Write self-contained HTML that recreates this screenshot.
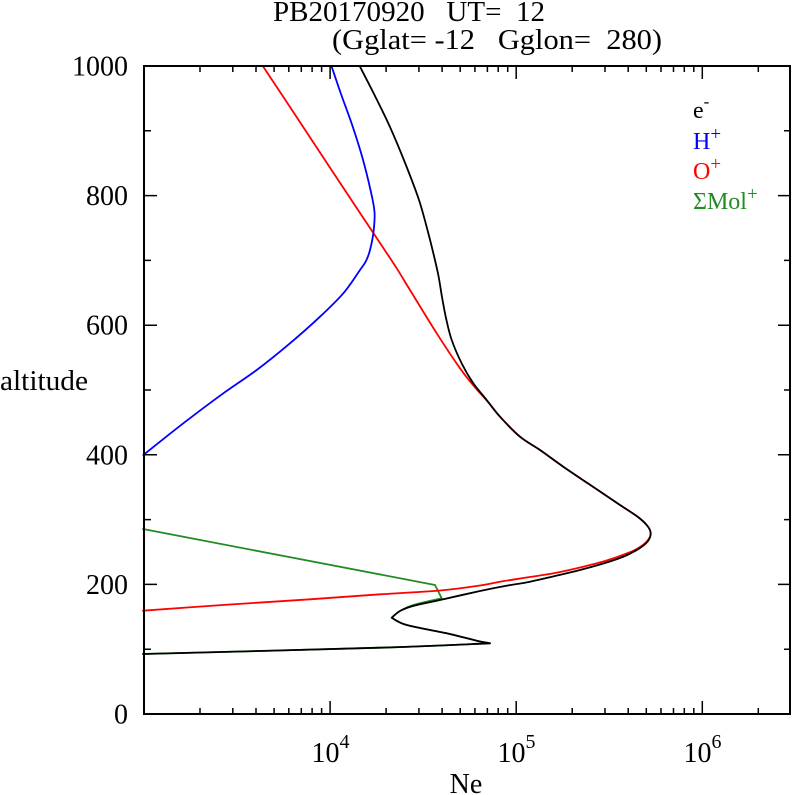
<!DOCTYPE html>
<html>
<head>
<meta charset="utf-8">
<style>
html,body{margin:0;padding:0;background:#fff;}
svg{display:block;}
text{font-family:"Liberation Serif","DejaVu Serif",serif;fill:#000;}
</style>
</head>
<body>
<svg width="792" height="795" viewBox="0 0 792 795" xmlns="http://www.w3.org/2000/svg">
<rect x="0" y="0" width="792" height="795" fill="#fff"/>

<!-- Title -->
<text x="273" y="21" font-size="28" textLength="272" lengthAdjust="spacingAndGlyphs" style="white-space:pre">PB20170920   UT=  12</text>
<text x="332" y="49" font-size="28" textLength="330" lengthAdjust="spacingAndGlyphs" style="white-space:pre">(Gglat= -12   Gglon=  280)</text>

<!-- Curves -->
<g fill="none" stroke-width="1.8" stroke-linejoin="round" stroke-linecap="round">
<path id="cg" stroke="#228B22" d="M143,529 L435,585 L441.7,598.3 L413.3,605 L396.7,613.3 L391.7,617.7 L406.7,625 L446.7,633.3 L476.7,640.7 L490,643.3 L380,647.7 L143,654"/>
<path id="cr" stroke="#FF0000" d="M263.3,66.7 L396.7,268.3 L410,290 L436.7,333.3 L460,368.3 L471.7,384 L488,402 L500,416.7 L520,436.7 L540,450 L563.3,466.7 L596.7,489.3 L613,500 L633,513 L645,522 L650.7,533.3 L648,540 L640,548 L630,553 L605,561 L580,568 L555,573 L530,576.7 L500,581.7 L480,586.5 L440,591 L380,594.3 L310,599.3 L230,604.5 L143,610.7"/>
<path id="cb" stroke="#0000FF" d="M331.7,66.7 L340,93.3 L353.3,126.7 L363.3,160 L371.7,193.3 L375,213.3 L373.3,233.3 L370,250 L366,260 L361.7,268.3 L343.3,293.3 L320,316.7 L290,343.3 L256.7,370 L223.3,393.3 L183.3,423.3 L143.3,455"/>
<path id="ck" stroke="#000000" d="M360,66.7 L373.3,93.3 L390,126.7 L406.7,166.7 L420,203.3 L430,240 L433.3,250 L437,268 L440,283.3 L445,316.7 L451.7,340 L463.3,366.7 L473.3,383.3 L486.7,400 L500,416.7 L520,436.7 L540,450 L563.3,466.7 L596.7,489.3 L613,500 L633,513 L645,522 L650.7,533.3 L648,540 L640,549 L630,555 L605,563 L580,570 L555,576 L530,581.7 L510,585 L480,591 L440,600 L413,606 L406.7,608.3 L391.7,617.7 L406.7,625 L446.7,633.3 L476.7,640.7 L490,643.3 L380,647.7 L143,654"/>
</g>

<!-- Axes box -->
<rect x="144" y="66" width="646" height="648" fill="none" stroke="#000" stroke-width="2"/>

<g stroke="#000" stroke-width="1.5">
<path d="
M200,714v-6 M232.8,714v-6 M256,714v-6 M274.1,714v-6 M288.8,714v-6 M301.3,714v-6 M312.1,714v-6 M321.6,714v-6
M386.1,714v-6 M418.9,714v-6 M442.1,714v-6 M460.2,714v-6 M474.9,714v-6 M487.4,714v-6 M498.2,714v-6 M507.7,714v-6
M572.2,714v-6 M605,714v-6 M628.2,714v-6 M646.3,714v-6 M661,714v-6 M673.5,714v-6 M684.3,714v-6 M693.8,714v-6
M758.3,714v-6
M200,66v6 M232.8,66v6 M256,66v6 M274.1,66v6 M288.8,66v6 M301.3,66v6 M312.1,66v6 M321.6,66v6
M386.1,66v6 M418.9,66v6 M442.1,66v6 M460.2,66v6 M474.9,66v6 M487.4,66v6 M498.2,66v6 M507.7,66v6
M572.2,66v6 M605,66v6 M628.2,66v6 M646.3,66v6 M661,66v6 M673.5,66v6 M684.3,66v6 M693.8,66v6
M758.3,66v6
"/>
<path d="M330.1,714v-13 M516.2,714v-13 M702.3,714v-13 M330.1,66v13 M516.2,66v13 M702.3,66v13"/>
<path d="M144,649.2h7 M144,519.6h7 M144,390h7 M144,260.4h7 M144,130.8h7
M144,584.4h13 M144,454.8h13 M144,325.2h13 M144,195.6h13"/>
<path d="M790,649.2h-6 M790,519.6h-6 M790,390h-6 M790,260.4h-6 M790,130.8h-6
M790,584.4h-12 M790,454.8h-12 M790,325.2h-12 M790,195.6h-12"/>
</g>

<!-- Y labels -->
<g font-size="28" text-anchor="end">
<text x="128" y="723.5">0</text>
<text x="128" y="594">200</text>
<text x="128" y="464.3">400</text>
<text x="128" y="334.7">600</text>
<text x="128" y="205.1">800</text>
<text x="128" y="75.5">1000</text>
</g>
<text x="0" y="390" font-size="28" textLength="88" lengthAdjust="spacingAndGlyphs">altitude</text>

<!-- X labels -->
<g font-size="28" text-anchor="middle">
<text x="330.5" y="762">10<tspan font-size="20" dy="-14">4</tspan></text>
<text x="516.5" y="762">10<tspan font-size="20" dy="-14">5</tspan></text>
<text x="702.5" y="762">10<tspan font-size="20" dy="-14">6</tspan></text>
</g>
<text x="466" y="793" font-size="28" text-anchor="middle">Ne</text>

<!-- Legend -->
<g font-size="24">
<text x="693" y="118" style="fill:#000">e<tspan font-size="17" dy="-11">-</tspan></text>
<text x="693" y="149" style="fill:#0000FF">H<tspan font-size="19" dy="-9">+</tspan></text>
<text x="693" y="179" style="fill:#FF0000">O<tspan font-size="19" dy="-9">+</tspan></text>
<text x="693" y="209" style="fill:#228B22">ΣMol<tspan font-size="19" dy="-9">+</tspan></text>
</g>
</svg>
<script>
(function(){
function smooth(segs){
  var d="";
  segs.forEach(function(p,si){
    if(si===0) d+="M"+p[0][0]+","+p[0][1];
    for(var i=0;i<p.length-1;i++){
      var p0=p[i-1]||p[i], p1=p[i], p2=p[i+1], p3=p[i+2]||p[i+1];
      var c1x=p1[0]+(p2[0]-p0[0])/6, c1y=p1[1]+(p2[1]-p0[1])/6;
      var c2x=p2[0]-(p3[0]-p1[0])/6, c2y=p2[1]-(p3[1]-p1[1])/6;
      d+=" C"+c1x.toFixed(2)+","+c1y.toFixed(2)+" "+c2x.toFixed(2)+","+c2y.toFixed(2)+" "+p2[0]+","+p2[1];
    }
  });
  return d;
}
var black=[
 [[360,66.7],[374,94],[390,127],[405.5,164],[419,200],[428,232],[434,256],[438.5,276],[442,297],[446,318],[451.7,340],[462,364],[473.3,383.3],[486.7,400],[500,416.7],[520,436.7],[540,450],[563.3,466.7],[596.7,489.3],[620,505],[638,517],[647.5,526],[650.7,533.3],[648,541],[640,548],[625,556],[605,563],[580,570],[555,576],[530,581.7],[505,586],[480,591],[440,600],[413,606],[400,611],[391.7,617.7]],
 [[391.7,617.7],[406.7,625],[446.7,633.3],[476.7,640.7],[490,643.3]],
 [[490,643.3],[380,647.7],[143,654]]
];
var red=[
 [[263.3,66.7],[290,107],[323.3,157.5],[356.7,208],[380,243],[396.7,268.3],[410,290],[436.7,333.3],[460,368.3],[473,385],[488,402],[500,416.7],[520,436.7],[540,450],[563.3,466.7],[596.7,489.3],[620,505],[638,517],[647.5,526],[650.7,533.3],[648,540],[640,547],[628,553],[605,561],[580,567.5],[555,573],[530,577],[500,581.7],[480,585.5],[440,590.5],[380,594.3],[310,599.3],[230,604.5],[143,610.7]]
];
var blue=[
 [[331.7,66.7],[341,94],[352.5,126],[362.5,158],[370.5,190],[374.5,212],[373.5,232],[370,250],[366,261],[360,270],[343.3,293.3],[320,316.7],[290,343.3],[256.7,370],[223.3,393.3],[183.3,423.3],[143.3,455]]
];
var green=[
 [[143,529],[435,585]],
 [[435,585],[441.7,598.3]],
 [[441.7,598.3],[413.3,605],[400,611],[391.7,617.7]],
 [[391.7,617.7],[406.7,625],[446.7,633.3],[476.7,640.7],[490,643.3]],
 [[490,643.3],[380,647.7],[143,654]]
];
function set(id,segs){var e=document.getElementById(id); if(e) e.setAttribute("d",smooth(segs));}
try{
set("ck",black);set("cr",red);set("cb",blue);set("cg",green);
}catch(e){}
})();
</script>
</body>
</html>
